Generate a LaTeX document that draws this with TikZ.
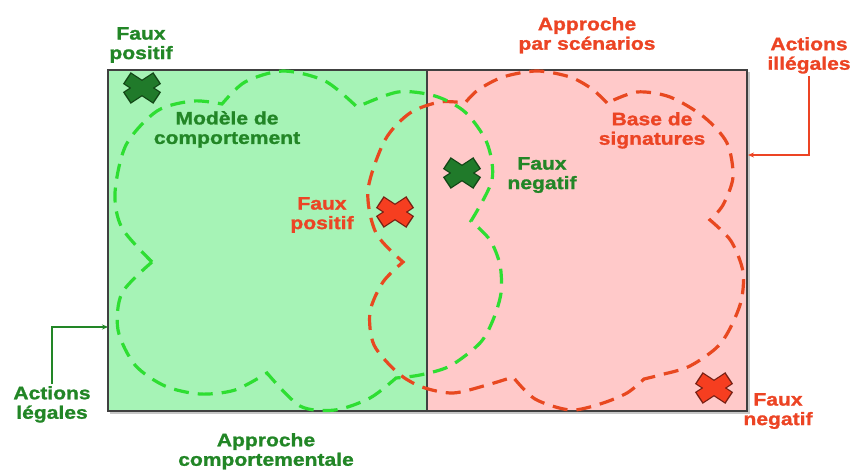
\documentclass[tikz,border=0pt]{standalone}
\usepackage{fontspec}
\setmainfont{Liberation Sans}[FakeStretch=1.17, BoldFeatures={FakeBold=1.3}]
\usetikzlibrary{arrows.meta}
\definecolor{gfill}{RGB}{166,243,182}
\definecolor{rfill}{RGB}{255,201,201}
\definecolor{gtext}{RGB}{34,134,38}
\definecolor{rtext}{RGB}{236,68,36}
\definecolor{gdashc}{RGB}{46,222,50}
\definecolor{rdashc}{RGB}{232,72,32}
\definecolor{gxfill}{RGB}{32,122,42}
\definecolor{gxline}{RGB}{18,70,22}
\definecolor{rxfill}{RGB}{246,62,32}
\definecolor{rxline}{RGB}{120,32,20}
\newcommand{\mycross}[4]{%
  \begin{scope}[shift={(#1,#2)}]
    \draw[line width=14pt, #4] (-15.2,-10)--(15.2,10) (-15.2,10)--(15.2,-10);
    \draw[line width=11.5pt, #3] (-14,-9.2)--(14,9.2) (-14,9.2)--(14,-9.2);
  \end{scope}}
\tikzset{
  lab/.style={align=center, inner sep=0pt, anchor=north, font=\bfseries\fontsize{18}{19.5}\selectfont},
  glab/.style={lab, text=gtext},
  rlab/.style={lab, text=rtext},
  zone/.style={draw=black!75, line width=1.1pt, inner sep=0pt, outer sep=0pt, anchor=north west},
  gdash/.style={draw=gdashc, line width=3.2pt, dash pattern=on 15pt off 9pt},
  rdash/.style={draw=rdashc, line width=3.2pt, dash pattern=on 15pt off 9pt},
  garrow/.style={draw=gtext, line width=1.3pt, -{Stealth[length=6pt,width=5pt]}},
  rarrow/.style={draw=rtext, line width=1.3pt, -{Stealth[length=6pt,width=5pt]}},
}
\begin{document}
\begin{tikzpicture}[x=1pt,y=-1pt]
\useasboundingbox (0,0) rectangle (853,471);
% shadow
\fill[black!22] (110,72) rectangle (749.5,413.5);
\node[zone, fill=gfill, minimum width=319pt, minimum height=341pt] (legal) at (108,70) {};
\node[zone, fill=rfill, minimum width=320pt, minimum height=341pt] (illegal) at (427,70) {};

% red cloud (signatures)
\draw[rdash]
  plot[smooth] coordinates {(607,103) (592,89) (570,77) (537,71) (503,77) (478,90) (465,103)}
  -- plot[smooth] coordinates {(465,103) (440,102) (410,113) (385,140) (368,190) (376,233) (403,262)}
  -- plot[smooth] coordinates {(403,262) (383,282) (370,312) (374,345) (398,373) (422,387) (453,393) (487,385) (513,377)}
  -- plot[smooth] coordinates {(513,377) (535,399) (570,410) (600,404) (627,393) (644,379)}
  -- plot[smooth] coordinates {(644,379) (660,375) (690,366) (721,343) (740,305) (743,272) (731,241) (710,220)}
  -- plot[smooth] coordinates {(710,220) (723,205) (733,177) (727,143) (704,117) (670,97) (637,92) (607,103)};

% green cloud (behaviour model)
\draw[gdash]
  plot[smooth] coordinates {(152,262) (122,228) (115,193) (126,145) (157,111) (193,101) (222,104)}
  -- plot[smooth] coordinates {(222,104) (245,82) (283,71) (325,81) (357,107)}
  -- plot[smooth] coordinates {(357,107) (398,92) (435,96) (465,112) (487,143) (492,180) (471,221)}
  -- plot[smooth] coordinates {(471,221) (490,240) (500,265) (501,293) (493,320) (480,343) (450,366) (420,375) (396,378)}
  -- plot[smooth] coordinates {(396,378) (370,398) (335,410) (300,406) (267,373)}
  -- plot[smooth] coordinates {(267,373) (235,390) (200,394) (165,386) (135,365) (118,330) (122,293) (152,262)};

% crosses
\mycross{142}{88}{draw=gxfill}{draw=gxline}
\mycross{462}{173}{draw=gxfill}{draw=gxline}
\mycross{395}{212}{draw=rxfill}{draw=rxline}
\mycross{714}{388}{draw=rxfill}{draw=rxline}

% labels
\node[glab] (fp1) at (141,27) {Faux\\positif};
\node[rlab] (aps) at (587,17) {Approche\\par scénarios};
\node[rlab] (ail) at (809,37) {Actions\\illégales};
\node[glab] (mdc) at (227,111) {Modèle de\\comportement};
\node[rlab] (fp2) at (322,197) {Faux\\positif};
\node[glab] (fn1) at (542,157) {Faux\\negatif};
\node[rlab] (bds) at (652,112) {Base de\\signatures};
\node[glab] (al) at (52,386) {Actions\\légales};
\node[glab] (apc) at (266,433) {Approche\\comportementale};
\node[rlab] (fn2) at (778,393) {Faux\\negatif};

% connectors
\coordinate (lin) at (108,327);
\coordinate (ilin) at (748,155);
\draw[garrow, shorten <=2pt] (al.north) |- (lin);
\draw[rarrow, shorten <=2pt] (ail.south) |- (ilin);
\end{tikzpicture}
\end{document}
